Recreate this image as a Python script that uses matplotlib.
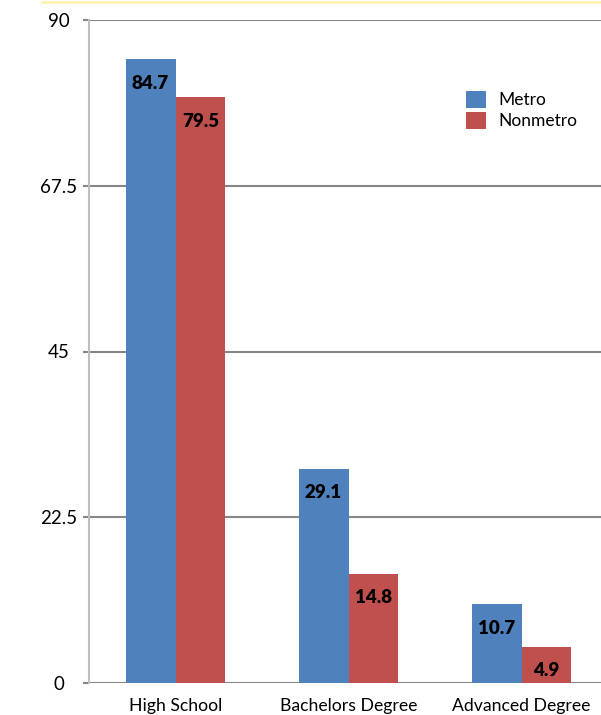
import numpy as np
import matplotlib.pyplot as plt

categories = ["High School", "Bachelors Degree", "Advanced Degree"]
metro = [84.7, 29.1, 10.7]
nonmetro = [79.5, 14.8, 4.9]
yticks = [0, 22.5, 45, 67.5, 90]
ytick_labels = ["0", "22.5", "45", "67.5", "90"]

plt.rcParams["font.family"] = ["Lato", "DejaVu Sans"]

W, H = 601, 715
fig = plt.figure(figsize=(W / 100, H / 100), dpi=100)

# axes spans past the right edge (chart is cropped in the reference)
left, right, top, bottom = 89, 608, 20, 683
ax = fig.add_axes([left / W, 1 - bottom / H, (right - left) / W, (bottom - top) / H])

x = np.arange(len(categories))
w = 0.289
b1 = ax.bar(x - w / 2, metro, w, color="#4F81BD", label="Metro", zorder=2)
b2 = ax.bar(x + w / 2, nonmetro, w, color="#C0504D", label="Nonmetro", zorder=2)

for bars, vals in ((b1, metro), (b2, nonmetro)):
    for r, v in zip(bars, vals):
        ax.annotate(f"{v}", (r.get_x() + r.get_width() / 2, v),
                    xytext=(0, -24), textcoords="offset pixels",
                    ha="center", va="center", fontsize=13.5, fontweight="heavy",
                    color="black", zorder=3)

ax.set_xlim(-0.5, 2.5)
ax.set_ylim(0, 90)
ax.set_yticks(yticks)
ax.set_yticklabels(ytick_labels, fontsize=13.5, ha="center")
ax.yaxis.grid(True, color="#868686", linewidth=1.5, zorder=0)
ax.tick_params(axis="y", length=4, color="#868686", width=1.5, pad=18)
ax.set_xticks(x)
ax.set_xticklabels(categories, fontsize=12.7)
ax.tick_params(axis="x", length=0, pad=11)

for s in ("top", "right", "bottom"):
    ax.spines[s].set_visible(False)
ax.spines["left"].set_color("#BFBFBF")
ax.spines["left"].set_linewidth(1.5)

leg = ax.legend(loc="upper left", bbox_to_anchor=((466 - left) / (right - left), 1 - (91 - top) / (bottom - top)),
                frameon=False, fontsize=12.5, handlelength=1.15, handleheight=1.15,
                handletextpad=0.7, labelspacing=0.2, borderaxespad=0, borderpad=0)

# faint yellow line along the top edge
fig.add_artist(plt.Line2D([0.07, 1], [1 - 1.5 / H, 1 - 1.5 / H], color="#FFF2B0", linewidth=2,
                          transform=fig.transFigure))

fig.savefig("out.png", dpi=100)
